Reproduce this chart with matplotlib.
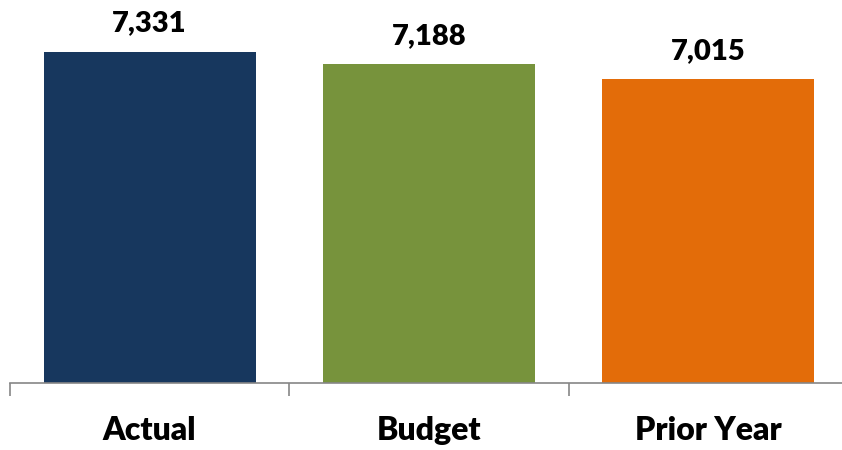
import matplotlib
matplotlib.use("Agg")
import matplotlib.pyplot as plt

categories = ["Actual", "Budget", "Prior Year"]
values = [7331, 7188, 7015]
colors = ["#17375E", "#77933C", "#E36C09"]

plt.rcParams['font.family'] = ['Lato', 'DejaVu Sans']

fig = plt.figure(figsize=(8.42, 4.5), dpi=100)
# plot area reaches slightly past the right edge like the original
ax = fig.add_axes([10 / 842, 67.5 / 450, 838 / 842, 388.6 / 450])

x = range(len(categories))
ax.bar(x, values, width=0.76, color=colors, zorder=2)
ax.set_xlim(-0.5, len(categories) - 0.5)
ax.set_ylim(3500, 8000)

for xi, v in zip(x, values):
    ax.annotate("{:,}".format(v), (xi, v), xytext=(0, 11), textcoords="offset points",
                ha="center", va="bottom", fontsize=21, fontweight="heavy", color="#000000")

for s in ["top", "right", "left"]:
    ax.spines[s].set_visible(False)
ax.spines["bottom"].set_color("#868686")
ax.spines["bottom"].set_linewidth(1.2)
ax.set_yticks([])

# category labels centred, tick marks between categories
ax.set_xticks(list(x))
ax.set_xticklabels(categories, fontsize=23, fontweight="heavy")
ax.tick_params(axis="x", which="major", length=0, pad=24)
ax.set_xticks([-0.5, 0.5, 1.5, 2.5], minor=True)
ax.tick_params(axis="x", which="minor", length=9, width=1.2, color="#868686", direction="out")

fig.savefig("out.png", dpi=100)
